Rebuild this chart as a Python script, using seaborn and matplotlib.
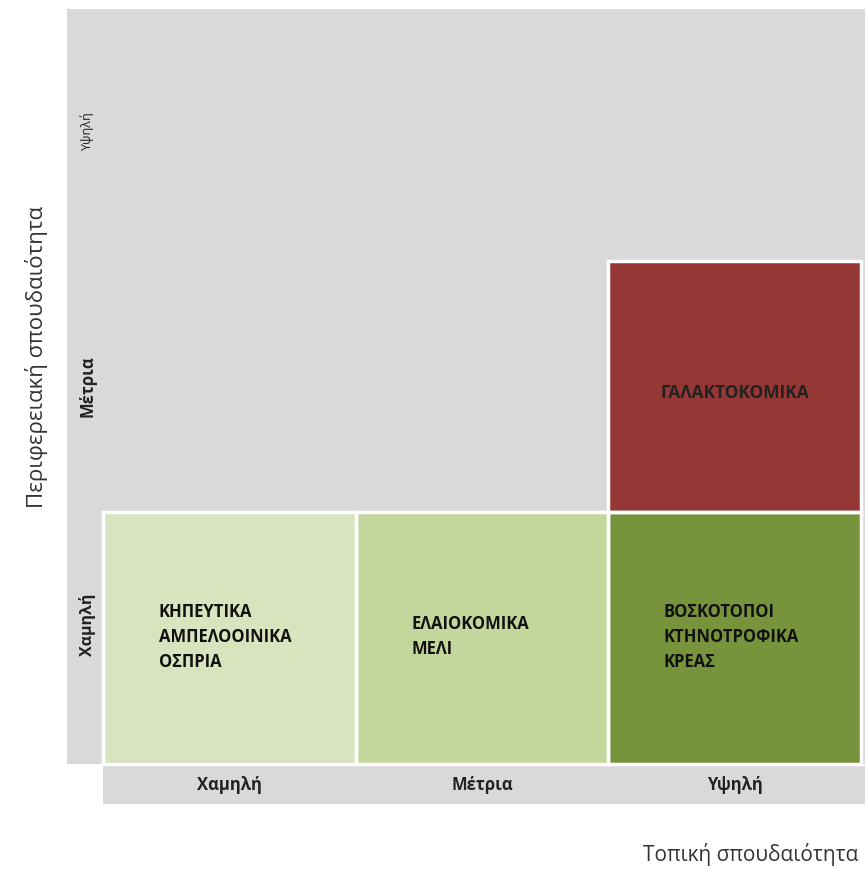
import matplotlib
matplotlib.use("Agg")
import matplotlib.pyplot as plt
import numpy as np
import pandas as pd
import seaborn as sns
from matplotlib.colors import ListedColormap
from matplotlib.patches import Rectangle

sns.set_theme(style="white")
plt.rcParams['font.family'] = ['Open Sans', 'DejaVu Sans']

# ---- data ----
local_levels = ['Χαμηλή', 'Μέτρια', 'Υψηλή']          # x (Τοπική σπουδαιότητα)
regional_levels = ['Υψηλή', 'Μέτρια', 'Χαμηλή']       # y, top to bottom
# category code per cell (NaN = empty)
cell_codes = [
    [np.nan, np.nan, np.nan],
    [np.nan, np.nan, 3],
    [0, 1, 2],
]
cell_labels = [
    ['', '', ''],
    ['', '', 'ΓΑΛΑΚΤΟΚΟΜΙΚΑ'],
    ['ΚΗΠΕΥΤΙΚΑ\nΑΜΠΕΛΟΟΙΝΙΚΑ\nΟΣΠΡΙΑ', 'ΕΛΑΙΟΚΟΜΙΚΑ\nΜΕΛΙ', 'ΒΟΣΚΟΤΟΠΟΙ\nΚΤΗΝΟΤΡΟΦΙΚΑ\nΚΡΕΑΣ'],
]
cell_colors = ['#D7E4BD', '#C3D69B', '#77933C', '#953735']
x_title = 'Τοπική σπουδαιότητα'
y_title = 'Περιφερειακή σπουδαιότητα'

W, H = 867, 870
fig = plt.figure(figsize=(W / 100, H / 100), dpi=100)
fig.patch.set_facecolor('white')

GRAY = '#D9D9D9'
def fx(px): return px / W
def fy(py): return 1 - py / H

# background panels
fig.patches.append(Rectangle((fx(67), fy(765)), fx(865) - fx(67), fy(10) - fy(765),
                             transform=fig.transFigure, facecolor=GRAY, edgecolor='none', zorder=-5))
fig.patches.append(Rectangle((fx(103), fy(805)), fx(865) - fx(103), fy(767) - fy(805),
                             transform=fig.transFigure, facecolor=GRAY, edgecolor='none', zorder=-5))

ax = fig.add_axes([fx(103), fy(765), fx(861) - fx(103), fy(10) - fy(765)])
ax.set_zorder(1)
ax.patch.set_alpha(0)

df = pd.DataFrame(cell_codes, index=regional_levels, columns=local_levels)
sns.heatmap(df, ax=ax, cmap=ListedColormap(cell_colors), vmin=-0.5, vmax=3.5,
            mask=df.isna(), cbar=False, linewidths=0,
            xticklabels=False, yticklabels=False)
ax.set_xlabel('')
ax.set_ylabel('')

# white borders only around filled cells
for i in range(df.shape[0]):
    for j in range(df.shape[1]):
        if not np.isnan(df.iat[i, j]):
            ax.add_patch(Rectangle((j, i), 1, 1, fill=False, edgecolor='white',
                                   linewidth=2.5, clip_on=False, zorder=3))

# cell annotations
for i, row in enumerate(cell_labels):
    for j, lab in enumerate(row):
        if not lab:
            continue
        if '\n' in lab:
            ax.text(j + 0.22, i + 0.49, lab, ha='left', va='center', fontsize=12,
                    fontweight='bold', color='#111111', linespacing=1.5, zorder=4)
        else:
            ax.text(j + 0.5, i + 0.52, lab, ha='center', va='center', fontsize=12.5,
                    fontweight='bold', color='#222222', zorder=4)

# x category labels in bottom strip
for j, lab in enumerate(local_levels):
    fig.text(fx(103 + 252.7 * (j + 0.5)), fy(785), lab, ha='center', va='center',
             fontsize=12, fontweight='bold', color='#222222')

# y category labels in left strip
y_pos = {'Υψηλή': 131, 'Μέτρια': 386, 'Χαμηλή': 625}
y_size = {'Υψηλή': 9, 'Μέτρια': 12, 'Χαμηλή': 11.5}
for lab in regional_levels:
    fig.text(fx(87), fy(y_pos[lab]), lab, ha='center', va='center', rotation=90,
             fontsize=y_size[lab],
             fontweight='bold' if lab != 'Υψηλή' else 'normal', color='#222222')

# axis titles
fig.text(fx(37), fy(357), y_title, rotation=90, ha='center', va='center',
         fontsize=16, color='#333333')
fig.text(fx(858), fy(855), x_title, ha='right', va='center', fontsize=15, color='#333333')

fig.savefig('out.png', dpi=100)
